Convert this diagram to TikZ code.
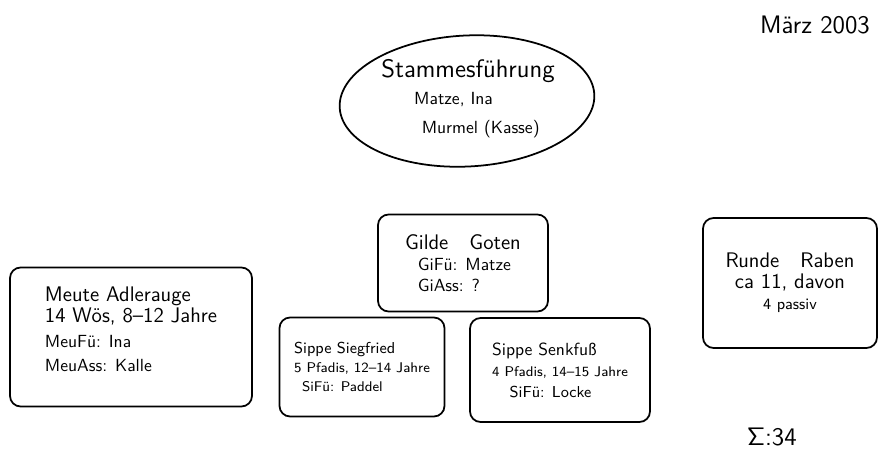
\documentclass[tikz,border=0pt]{standalone}
\usepackage{amssymb,amsmath}
\usetikzlibrary{shapes.geometric}

\begin{document}
\begin{tikzpicture}[x=0.02cm,y=-0.02cm]
\tikzstyle{every node}=[font=\sffamily];
\tikzstyle{box}=[draw,line width=1pt,rounded corners=6pt,inner sep=0pt];
\tikzstyle{oval}=[draw,ellipse,line width=1pt,inner sep=0pt];

  \useasboundingbox (0,0) rectangle (879,454);

  % Stammesfuehrung
  \node[oval,minimum width=5.1cm,minimum height=2.62cm,rotate=3] (stamm) at (467,101) {};
  \node[align=left,font=\sffamily\Large] (stammtext) at (468,99)
    {Stammesführung\\[-3pt]\hspace*{1.3em}\normalsize Matze, Ina\\[-1pt]\hspace*{1.6em}\normalsize Murmel (Kasse)};

  \node[font=\sffamily\Large] (datum) at (815,25) {März 2003};

  % Gruppen
  \node[box,align=left,minimum width=4.84cm,minimum height=2.78cm,text depth=0.3cm,font=\sffamily\large] (meute) at (131,337)
    {Meute Adlerauge\\[-2pt]14 Wös, 8--12 Jahre\\\normalsize MeuFü: Ina\\\normalsize MeuAss: Kalle};
  \node[box,align=left,minimum width=3.4cm,minimum height=1.94cm,font=\sffamily\large] (gilde) at (463,263)
    {Gilde\quad Goten\\[-2pt]\hspace*{0.6em}\normalsize GiFü: Matze\\[-2pt]\hspace*{0.6em}\normalsize GiAss: ?};
  \node[box,align=left,minimum width=3.3cm,minimum height=1.98cm,font=\sffamily\small] (siegfried) at (362,367)
    {Sippe Siegfried\\\footnotesize 5 Pfadis, 12--14 Jahre\\\hspace*{0.5em}\footnotesize SiFü: Paddel};
  \node[box,align=left,minimum width=3.6cm,minimum height=2.08cm,font=\sffamily] (senkfuss) at (560,370)
    {Sippe Senkfuß\\\footnotesize 4 Pfadis, 14--15 Jahre\\\hspace*{1em}\small SiFü: Locke};
  \node[box,align=center,minimum width=3.48cm,minimum height=2.6cm,font=\sffamily\large] (runde) at (790,283)
    {Runde\quad Raben\\[-2pt]ca 11, davon\\[-2pt]\small 4 passiv};

  \node[font=\sffamily\Large] (summe) at (772,437) {$\mathsf{\Sigma}$:34};

\end{tikzpicture}
\end{document}
